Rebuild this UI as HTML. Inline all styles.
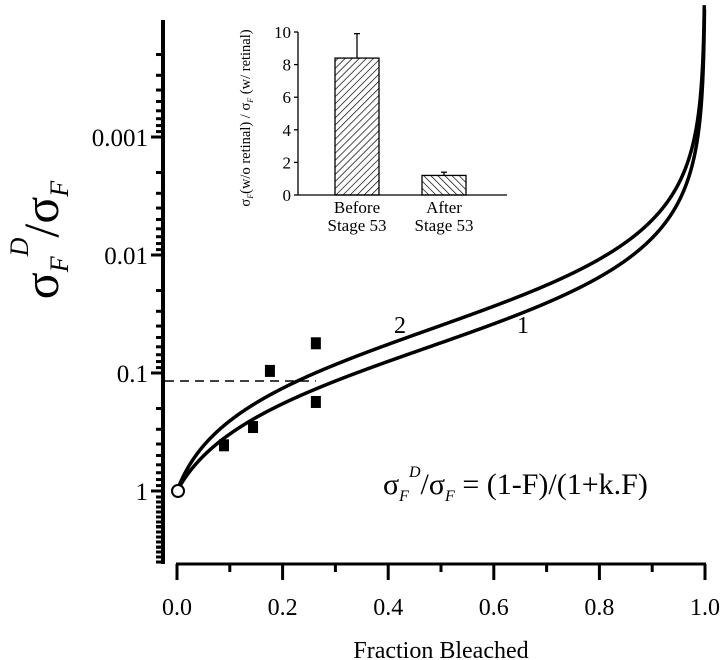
<!DOCTYPE html>
<html><head><meta charset="utf-8"><style>
body{margin:0;background:#fff}
svg{display:block;font-family:"Liberation Serif",serif}
</style></head><body>
<svg id="c" width="720" height="660" viewBox="0 0 720 660">
<g id="main"></g>
<g id="inset"></g>
</svg>
<script>
const kValues=[19,28];
const curveLabels=["1","2"];
const pointF=[0.089,0.144,0.176,0.263,0.263];
const pointV=[0.41,0.287,0.096,0.056,0.176];
const xTicks=[0,0.2,0.4,0.6,0.8,1.0];
const xTickLabels=["0.0","0.2","0.4","0.6","0.8","1.0"];
const yMajor=[1,0.1,0.01,0.001];
const yMajorLabels=["1","0.1","0.01","0.001"];
const dashedV=0.117;
const insetCats=["Before|Stage 53","After|Stage 53"];
const insetVals=[8.4,1.2];
const insetErr=[1.5,0.2];
const insetTicks=[0,2,4,6,8,10];

const NS="http://www.w3.org/2000/svg";
function mk(p,t,a,txt){const e=document.createElementNS(NS,t);for(const k in a)e.setAttribute(k,a[k]);if(txt!==undefined)e.textContent=txt;p.appendChild(e);return e;}
const X=f=>177+f*528;
const Y=v=>491+118*Math.log10(v);
const CURVE_SCALE=0.95;
const YC=v=>491+118*CURVE_SCALE*Math.log10(v);
const g=document.getElementById('main');

// y axis
let ya=mk(g,'line',{x1:163,y1:20,x2:163,y2:564,stroke:'#000','stroke-width':4});

for(let e=-4;e<=0;e++){for(let m=1;m<=9;m++){const v=m*Math.pow(10,e);const y=Y(v);if(y<20||y>564)continue;
 const major=m===1;mk(g,'line',{x1:major?151:156,y1:y,x2:163,y2:y,stroke:'#000','stroke-width':3});}}
for(let y=497;y<=562;y+=5){mk(g,'line',{x1:156,y1:y,x2:163,y2:y,stroke:'#000','stroke-width':3});}
yMajor.forEach((v,i)=>{const t=mk(g,'text',{x:148,y:Y(v)+9,'text-anchor':'end','font-size':25},yMajorLabels[i]);
 });
let yt=mk(g,'text',{transform:'translate(58,240) rotate(-90)','text-anchor':'middle','font-size':50});

yt.innerHTML='σ<tspan font-size="26" font-style="italic" dy="10">F</tspan><tspan font-size="26" font-style="italic" dy="-40">D</tspan><tspan dy="30">/σ</tspan><tspan font-size="26" font-style="italic" dy="10">F</tspan>';

// x axis
let xa=mk(g,'line',{x1:176,y1:564,x2:706,y2:564,stroke:'#000','stroke-width':3});

for(let i=0;i<=10;i++){const f=i/10;mk(g,'line',{x1:X(f),y1:564,x2:X(f),y2:i%2?572:580,stroke:'#000','stroke-width':3});}
xTicks.forEach((f,i)=>{const t=mk(g,'text',{x:X(f),y:615,'text-anchor':'middle','font-size':24},xTickLabels[i]);
 });
let xt=mk(g,'text',{x:441,y:658,'text-anchor':'middle','font-size':24},'Fraction Bleached');


// dashed line
let dl=mk(g,'line',{x1:165,y1:Y(dashedV),x2:X(0.263),y2:Y(dashedV),stroke:'#000','stroke-width':1.5,'stroke-dasharray':'9,6'});


// curves
kValues.forEach((k,i)=>{let d='';for(let j=0;j<=3000;j++){const f=j/3000*0.99999;const v=(1-f)/(1+k*f);const y=YC(v);if(y<4)break;d+=(j?'L':'M')+X(f).toFixed(2)+','+y.toFixed(2);}
 const p=mk(g,'path',{d:d,fill:'none',stroke:'#000','stroke-width':3.5});
 });
let l2=mk(g,'text',{x:400,y:333,'text-anchor':'middle','font-size':24},curveLabels[1]);

let l1=mk(g,'text',{x:523,y:333,'text-anchor':'middle','font-size':24},curveLabels[0]);


// points
pointF.forEach((f,i)=>{const r=mk(g,'rect',{x:X(f)-5,y:Y(pointV[i])-6,width:10,height:12,fill:'#000'});
 });
let oc=mk(g,'circle',{cx:X(0)+1,cy:Y(1),r:6,fill:'#fff',stroke:'#000','stroke-width':2});


// equation
let eq=mk(g,'text',{x:383,y:494,'font-size':30});

eq.innerHTML='σ<tspan font-size="16" font-style="italic" dy="7">F</tspan><tspan font-size="16" font-style="italic" dy="-24">D</tspan><tspan dy="17">/σ</tspan><tspan font-size="16" font-style="italic" dy="7">F</tspan><tspan dy="-7"> = (1-F)/(1+k.F)</tspan>';

// inset
const ig=document.getElementById('inset');
const defs=mk(ig,'defs',{});
const p1=mk(defs,'pattern',{id:'h1',patternUnits:'userSpaceOnUse',width:5,height:5,patternTransform:'rotate(45)'});
mk(p1,'line',{x1:0,y1:0,x2:0,y2:5,stroke:'#000','stroke-width':1.4});
const p2=mk(defs,'pattern',{id:'h2',patternUnits:'userSpaceOnUse',width:5,height:5,patternTransform:'rotate(-45)'});
mk(p2,'line',{x1:0,y1:0,x2:0,y2:5,stroke:'#000','stroke-width':1.4});
const IY=v=>195-v*16.3;
const barX=[335,422],barW=44;
mk(ig,'line',{x1:298,y1:32,x2:298,y2:195,stroke:'#000','stroke-width':1.3});
mk(ig,'line',{x1:298,y1:195,x2:507,y2:195,stroke:'#000','stroke-width':1.3});
insetTicks.forEach(v=>{mk(ig,'line',{x1:294,y1:IY(v),x2:298,y2:IY(v),stroke:'#000','stroke-width':1.3});
 const t=mk(ig,'text',{x:291,y:IY(v)+6,'text-anchor':'end','font-size':17},String(v));
 });
insetVals.forEach((v,i)=>{const x=barX[i];
 mk(ig,'line',{x1:x+barW/2,y1:IY(v+insetErr[i]),x2:x+barW/2,y2:IY(v),stroke:'#000','stroke-width':1.3});
 mk(ig,'line',{x1:x+barW/2-3,y1:IY(v+insetErr[i]),x2:x+barW/2+3,y2:IY(v+insetErr[i]),stroke:'#000','stroke-width':1.3});
 const r=mk(ig,'rect',{x:x,y:IY(v),width:barW,height:195-IY(v),fill:'url(#h'+(i+1)+')',stroke:'#000','stroke-width':1.3});
 
 const parts=insetCats[i].split('|');
 const t=mk(ig,'text',{x:x+barW/2,y:213,'text-anchor':'middle','font-size':17},parts[0]);
 
 mk(ig,'text',{x:x+barW/2,y:231,'text-anchor':'middle','font-size':17},parts[1]);});
let iyt=mk(ig,'text',{transform:'translate(250,118) rotate(-90)','text-anchor':'middle','font-size':14.5});

iyt.innerHTML='σ<tspan font-size="8" font-style="italic" dy="3">F</tspan><tspan dy="-3">(w/o retinal) / σ</tspan><tspan font-size="8" font-style="italic" dy="3">F</tspan><tspan dy="-3"> (w/ retinal)</tspan>';
</script>
</body></html>
